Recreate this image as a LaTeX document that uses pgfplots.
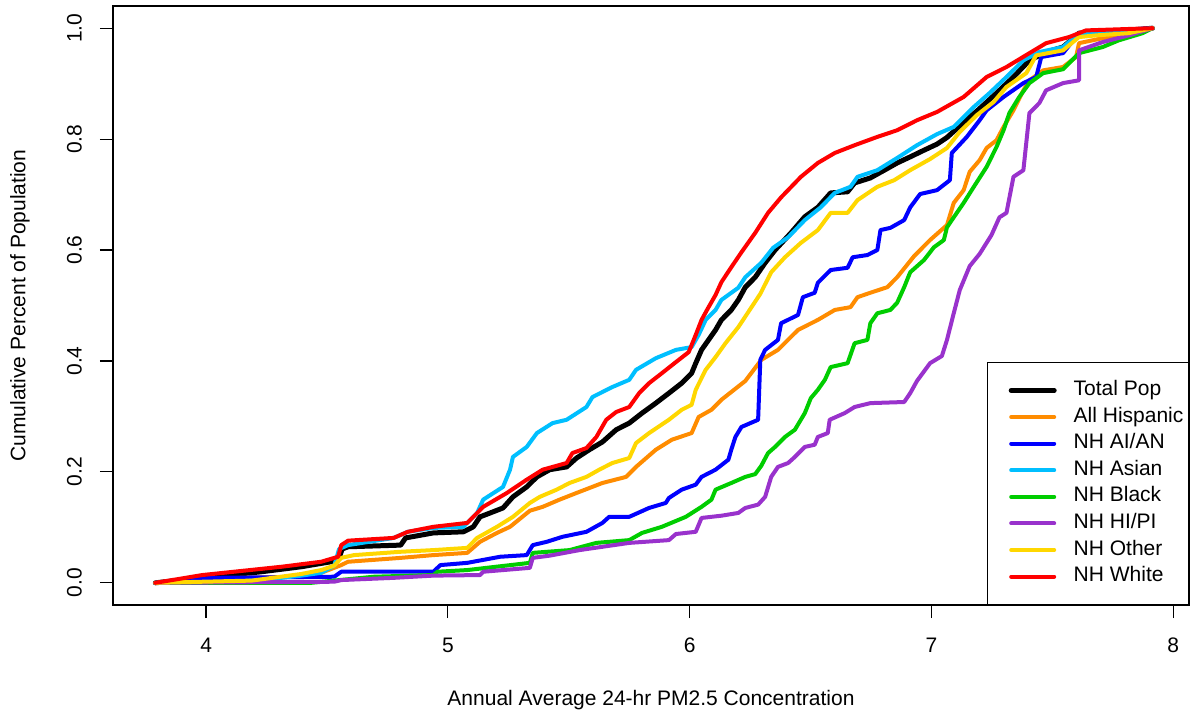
\documentclass[border=0pt]{standalone}
\usepackage{pgfplots}
\pgfplotsset{compat=1.18}
\usepackage{fontspec}
\setmainfont{Liberation Sans}
\definecolor{cOrange}{RGB}{255,140,0}
\definecolor{cBlue}{RGB}{0,0,255}
\definecolor{cCyan}{RGB}{0,191,255}
\definecolor{cGreen}{RGB}{0,205,0}
\definecolor{cPurple}{RGB}{153,50,204}
\definecolor{cGold}{RGB}{255,215,0}
\definecolor{cRed}{RGB}{255,0,0}
\begin{document}
\begin{tikzpicture}
\begin{axis}[
  scale only axis, width=538pt, height=299.5pt,
  xmin=3.615, xmax=8.065, ymin=-0.04, ymax=1.04,
  axis line style={line width=0.6pt},
  xtick={4,5,6,7,8}, ytick={0,0.2,0.4,0.6,0.8,1.0},
  xtick pos=left, ytick pos=left,
  tick align=outside, major tick length=6.5pt,
  tick style={black, line width=0.6pt},
  font=\fontsize{10.5}{12.6}\selectfont,
  /pgf/number format/assume math mode=true,
  yticklabel style={/pgf/number format/fixed, /pgf/number format/fixed zerofill, /pgf/number format/precision=1, xshift=-12.75pt, rotate=90, anchor=center},
  xticklabel style={anchor=center, yshift=-13.5pt},
  xlabel={Annual Average 24-hr PM2.5 Concentration},
  ylabel={Cumulative Percent of Population},
  xlabel style={at={(axis description cs:0.5,-0.1586)}, anchor=center},
  ylabel style={at={(axis description cs:-0.0864,0.5)}, anchor=center},
  legend style={at={(1,0)}, anchor=south east, draw=black, line width=0.6pt,
    inner xsep=2.5pt, inner ysep=8.9pt, row sep=3.3pt, column sep=8.5pt,
    nodes={inner sep=0pt, text height=7.5pt, text depth=2.5pt},
    font=\fontsize{10.5}{12.6}\selectfont},
  legend cell align=left,
  legend image code/.code={\path (-8pt,0pt); \draw[#1] (0pt,0pt) -- (21.5pt,0pt);},
  every axis plot/.append style={line join=round, line cap=round, line width=2pt},
]
% Total Pop
\addplot[black, line width=2.5pt] coordinates {
(3.790,0) (3.984,0.009) (4.230,0.020) (4.394,0.029) (4.517,0.038) (4.550,0.045)
(4.563,0.061) (4.587,0.065) (4.805,0.068) (4.825,0.081) (4.940,0.090) (5.064,0.092)
(5.105,0.101) (5.133,0.119) (5.175,0.126) (5.228,0.135) (5.269,0.155) (5.326,0.173)
(5.368,0.191) (5.421,0.204) (5.491,0.209) (5.532,0.225) (5.585,0.240) (5.639,0.254)
(5.696,0.276) (5.750,0.288) (5.803,0.306) (5.860,0.324) (5.914,0.342) (5.967,0.360)
(6.008,0.378) (6.025,0.396) (6.049,0.420) (6.078,0.438) (6.107,0.456) (6.131,0.474)
(6.172,0.492) (6.201,0.510) (6.230,0.533) (6.271,0.551) (6.312,0.577) (6.353,0.600)
(6.419,0.631) (6.476,0.660) (6.530,0.677) (6.583,0.703) (6.653,0.705) (6.682,0.721)
(6.747,0.730) (6.805,0.744) (6.858,0.757) (6.912,0.768) (6.969,0.780) (7.023,0.791)
(7.064,0.803) (7.133,0.830) (7.199,0.855) (7.269,0.883) (7.339,0.912) (7.405,0.942)
(7.474,0.957) (7.544,0.966) (7.610,0.991) (7.680,0.993) (7.815,0.996) (7.914,1.0)
};
\addlegendentry{Total Pop}
% All Hispanic
\addplot[cOrange] coordinates {
(3.790,0) (3.984,0.002) (4.148,0.009) (4.394,0.011) (4.476,0.018) (4.559,0.032)
(4.587,0.038) (4.805,0.045) (4.940,0.050) (5.080,0.054) (5.133,0.074) (5.203,0.090)
(5.257,0.101) (5.339,0.130) (5.392,0.137) (5.462,0.150) (5.532,0.162) (5.639,0.180)
(5.737,0.191) (5.778,0.209) (5.860,0.240) (5.926,0.258) (6.008,0.270) (6.037,0.299)
(6.090,0.312) (6.131,0.330) (6.230,0.364) (6.296,0.402) (6.365,0.420) (6.448,0.456)
(6.530,0.474) (6.600,0.492) (6.665,0.497) (6.694,0.515) (6.747,0.523) (6.817,0.533)
(6.858,0.551) (6.928,0.589) (6.994,0.618) (7.064,0.645) (7.092,0.685) (7.133,0.708)
(7.158,0.741) (7.199,0.762) (7.228,0.784) (7.269,0.798) (7.298,0.822) (7.339,0.852)
(7.380,0.888) (7.405,0.906) (7.462,0.924) (7.544,0.930) (7.598,0.948) (7.610,0.973)
(7.708,0.982) (7.815,0.991) (7.914,1.0)
};
\addlegendentry{All Hispanic}
% NH AI/AN
\addplot[cBlue] coordinates {
(3.790,0) (4.025,0.009) (4.530,0.011) (4.559,0.020) (4.940,0.020) (4.969,0.032)
(5.080,0.036) (5.216,0.047) (5.326,0.050) (5.351,0.068) (5.409,0.074) (5.474,0.083)
(5.573,0.092) (5.639,0.108) (5.667,0.119) (5.750,0.119) (5.832,0.135) (5.901,0.144)
(5.914,0.153) (5.967,0.168) (6.025,0.177) (6.049,0.191) (6.107,0.204) (6.160,0.222)
(6.172,0.240) (6.189,0.263) (6.214,0.281) (6.283,0.294) (6.292,0.402) (6.312,0.420)
(6.365,0.438) (6.378,0.468) (6.448,0.483) (6.468,0.515) (6.517,0.523) (6.530,0.541)
(6.583,0.564) (6.653,0.568) (6.674,0.587) (6.735,0.591) (6.776,0.600) (6.789,0.636)
(6.830,0.640) (6.887,0.654) (6.912,0.677) (6.953,0.701) (7.023,0.708) (7.076,0.726)
(7.084,0.775) (7.146,0.804) (7.199,0.834) (7.228,0.852) (7.298,0.876) (7.380,0.901)
(7.433,0.912) (7.454,0.948) (7.544,0.955) (7.610,0.991) (7.749,0.996) (7.914,1.0)
};
\addlegendentry{NH AI/AN}
% NH Asian
\addplot[cCyan] coordinates {
(3.790,0) (4.025,0) (4.230,0.005) (4.394,0.013) (4.476,0.018) (4.530,0.031)
(4.550,0.061) (4.587,0.068) (4.776,0.081) (4.834,0.092) (4.940,0.099) (5.064,0.101)
(5.121,0.126) (5.146,0.150) (5.228,0.173) (5.257,0.204) (5.269,0.227) (5.326,0.245)
(5.368,0.270) (5.433,0.288) (5.491,0.294) (5.573,0.317) (5.598,0.335) (5.680,0.353)
(5.750,0.366) (5.778,0.384) (5.860,0.405) (5.943,0.420) (6.008,0.425) (6.037,0.447)
(6.066,0.474) (6.107,0.492) (6.131,0.510) (6.201,0.532) (6.230,0.551) (6.296,0.577)
(6.345,0.604) (6.407,0.623) (6.476,0.654) (6.542,0.677) (6.600,0.703) (6.665,0.714)
(6.694,0.732) (6.776,0.744) (6.858,0.766) (6.940,0.789) (7.023,0.809) (7.092,0.822)
(7.175,0.858) (7.240,0.883) (7.310,0.912) (7.380,0.942) (7.446,0.957) (7.544,0.966)
(7.610,0.991) (7.749,0.993) (7.914,1.0)
};
\addlegendentry{NH Asian}
% NH Black
\addplot[cGreen] coordinates {
(3.790,0) (4.435,0) (4.694,0.011) (4.940,0.014) (4.957,0.020) (5.080,0.023)
(5.339,0.036) (5.351,0.054) (5.503,0.059) (5.614,0.072) (5.750,0.077) (5.803,0.090)
(5.885,0.101) (5.984,0.119) (6.049,0.137) (6.090,0.150) (6.107,0.168) (6.172,0.180)
(6.230,0.191) (6.271,0.196) (6.296,0.211) (6.324,0.234) (6.353,0.245) (6.394,0.263)
(6.435,0.276) (6.476,0.306) (6.501,0.333) (6.530,0.348) (6.559,0.366) (6.583,0.389)
(6.653,0.396) (6.682,0.432) (6.735,0.438) (6.747,0.468) (6.776,0.486) (6.830,0.492)
(6.858,0.505) (6.887,0.533) (6.912,0.560) (6.969,0.582) (7.010,0.605) (7.051,0.618)
(7.064,0.641) (7.092,0.659) (7.133,0.685) (7.175,0.714) (7.228,0.750) (7.269,0.786)
(7.298,0.816) (7.322,0.847) (7.363,0.876) (7.405,0.901) (7.462,0.919) (7.544,0.926)
(7.610,0.955) (7.708,0.966) (7.774,0.978) (7.873,0.991) (7.914,1.0)
};
\addlegendentry{NH Black}
% NH HI/PI
\addplot[cPurple] coordinates {
(3.790,0) (4.530,0.002) (4.559,0.005) (4.776,0.009) (4.940,0.013) (5.133,0.014)
(5.146,0.020) (5.339,0.027) (5.351,0.045) (5.421,0.049) (5.544,0.059) (5.750,0.072)
(5.914,0.077) (5.943,0.088) (6.025,0.092) (6.049,0.117) (6.131,0.121) (6.201,0.126)
(6.230,0.135) (6.283,0.141) (6.312,0.155) (6.337,0.191) (6.365,0.209) (6.407,0.216)
(6.435,0.227) (6.476,0.245) (6.517,0.249) (6.530,0.263) (6.571,0.270) (6.579,0.294)
(6.641,0.306) (6.682,0.317) (6.747,0.324) (6.887,0.326) (6.912,0.342) (6.940,0.364)
(6.994,0.396) (7.043,0.409) (7.064,0.438) (7.092,0.486) (7.117,0.528) (7.158,0.571)
(7.199,0.593) (7.248,0.627) (7.281,0.659) (7.310,0.667) (7.339,0.732) (7.380,0.744)
(7.405,0.847) (7.446,0.865) (7.474,0.888) (7.544,0.901) (7.610,0.906) (7.610,0.960)
(7.708,0.975) (7.815,0.987) (7.914,1.0)
};
\addlegendentry{NH HI/PI}
% NH Other
\addplot[cGold] coordinates {
(3.790,0) (4.189,0.004) (4.394,0.016) (4.476,0.023) (4.530,0.031) (4.559,0.045)
(4.612,0.050) (4.805,0.056) (4.940,0.059) (5.080,0.063) (5.121,0.081) (5.203,0.101)
(5.269,0.119) (5.339,0.144) (5.380,0.155) (5.450,0.168) (5.503,0.180) (5.573,0.191)
(5.626,0.204) (5.680,0.216) (5.750,0.225) (5.778,0.252) (5.832,0.270) (5.914,0.294)
(5.967,0.312) (6.008,0.321) (6.025,0.348) (6.066,0.384) (6.107,0.407) (6.148,0.432)
(6.201,0.461) (6.242,0.488) (6.292,0.521) (6.337,0.560) (6.394,0.587) (6.460,0.613)
(6.530,0.636) (6.583,0.667) (6.653,0.667) (6.694,0.690) (6.776,0.714) (6.846,0.726)
(6.912,0.744) (6.994,0.764) (7.064,0.784) (7.117,0.813) (7.187,0.843) (7.257,0.867)
(7.310,0.894) (7.392,0.919) (7.433,0.951) (7.544,0.960) (7.610,0.984) (7.680,0.987)
(7.815,0.991) (7.914,1.0)
};
\addlegendentry{NH Other}
% NH White
\addplot[cRed] coordinates {
(3.790,0) (3.984,0.014) (4.312,0.029) (4.476,0.038) (4.546,0.047) (4.559,0.068)
(4.587,0.076) (4.776,0.081) (4.834,0.092) (4.940,0.101) (5.080,0.108) (5.121,0.126)
(5.146,0.137) (5.244,0.162) (5.326,0.186) (5.392,0.204) (5.491,0.216) (5.515,0.234)
(5.573,0.243) (5.614,0.263) (5.655,0.294) (5.696,0.308) (5.750,0.317) (5.791,0.342)
(5.832,0.360) (5.885,0.378) (5.943,0.398) (5.996,0.416) (6.025,0.447) (6.049,0.474)
(6.078,0.497) (6.107,0.519) (6.131,0.542) (6.172,0.569) (6.214,0.596) (6.271,0.631)
(6.324,0.667) (6.378,0.695) (6.460,0.732) (6.530,0.757) (6.600,0.775) (6.682,0.789)
(6.776,0.804) (6.858,0.816) (6.940,0.834) (7.023,0.849) (7.133,0.876) (7.228,0.912)
(7.310,0.930) (7.405,0.955) (7.474,0.973) (7.569,0.984) (7.639,0.996) (7.914,1.0)
};
\addlegendentry{NH White}
\end{axis}
\pgfresetboundingbox
\path[use as bounding box] ([xshift=-56.5pt,yshift=-57pt]current axis.south west) rectangle ([xshift=1pt,yshift=3pt]current axis.north east);
\end{tikzpicture}
\end{document}
